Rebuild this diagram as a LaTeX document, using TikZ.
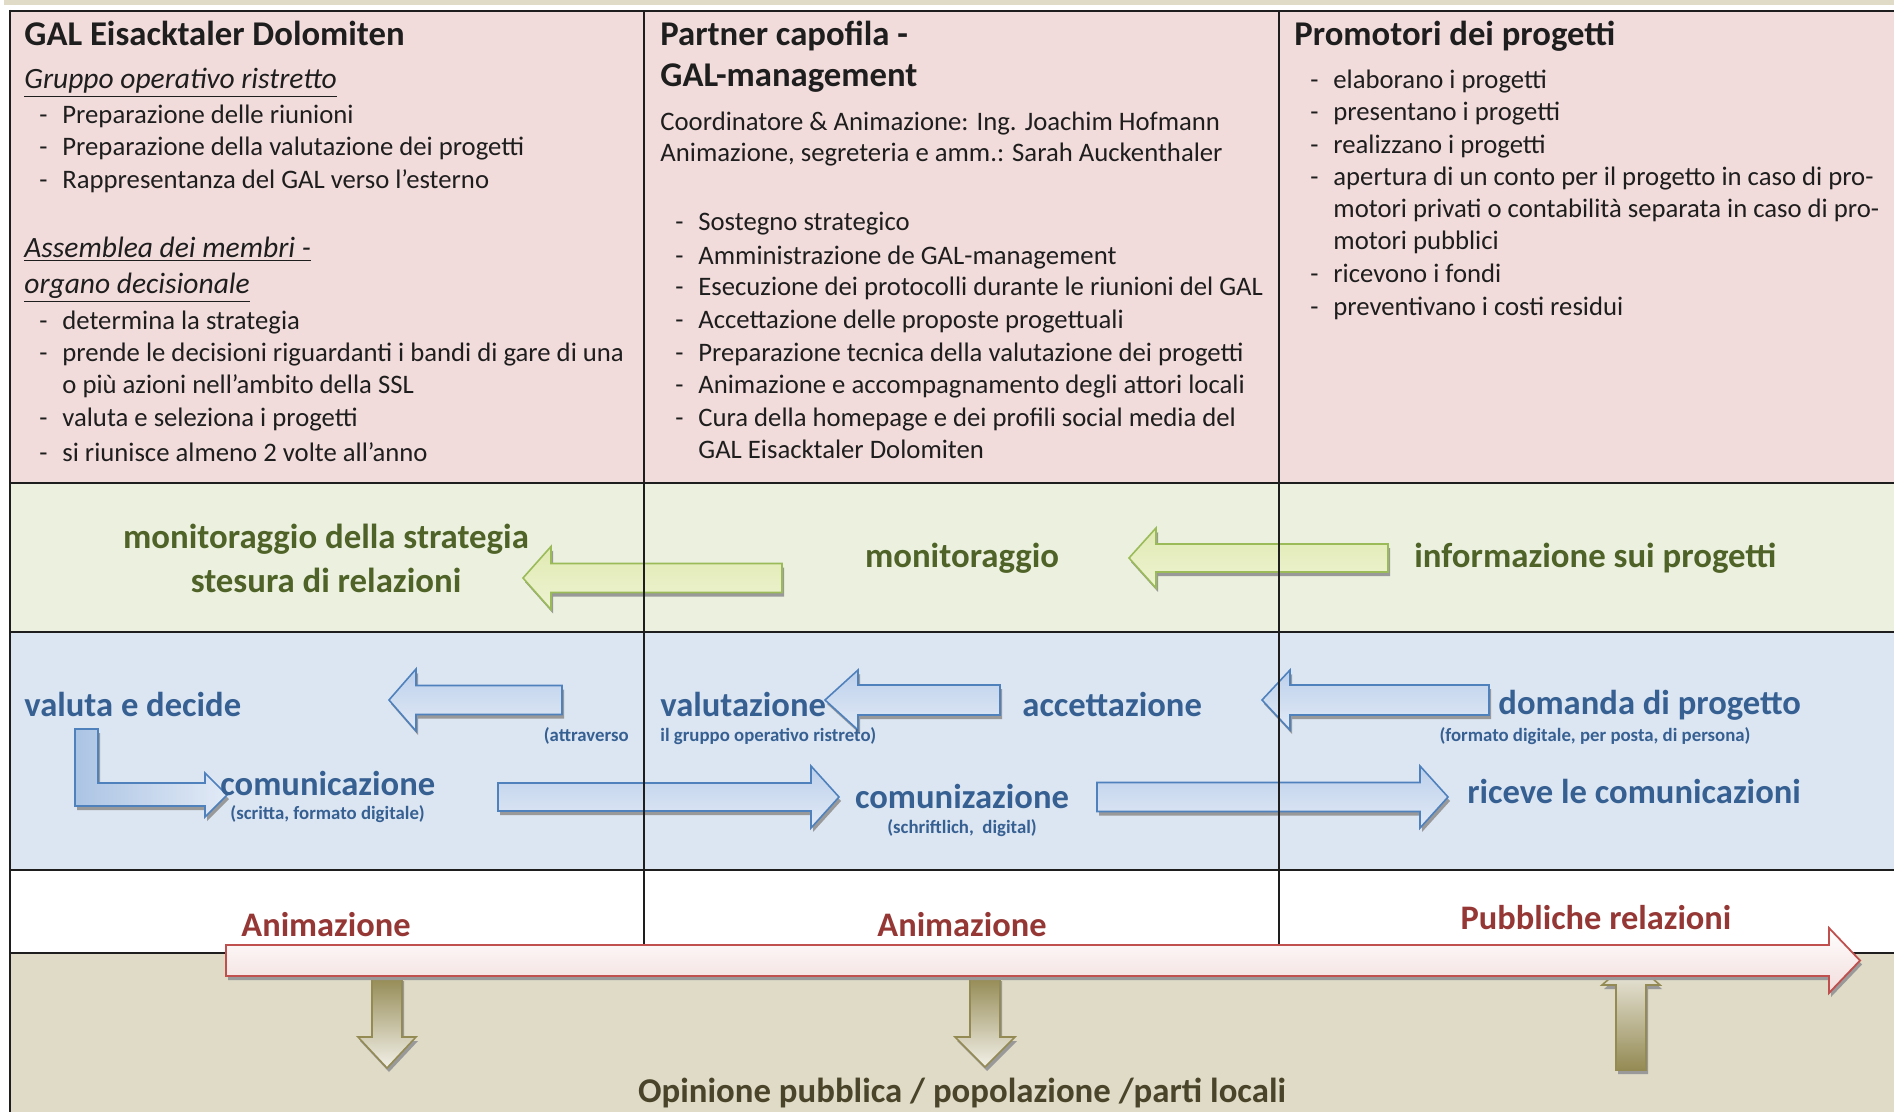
\documentclass[tikz,border=0pt]{standalone}
\usepackage{fontspec}
\setmainfont{Carlito}
\definecolor{pinkbg}{HTML}{F2DCDB}
\definecolor{greenbg}{HTML}{EBF1DE}
\definecolor{bluebg}{HTML}{DCE6F2}
\definecolor{beigebg}{HTML}{DFDBC7}
\definecolor{txtgreen}{HTML}{4F6228}
\definecolor{txtblue}{HTML}{376092}
\definecolor{txtred}{HTML}{953735}
\definecolor{txtolive}{HTML}{4A452A}
\definecolor{arblue}{HTML}{4F81BD}
\definecolor{argreen}{HTML}{9BBB59}
\definecolor{arred}{HTML}{C0504D}
\definecolor{arolive}{HTML}{948A54}
\definecolor{txtdark}{HTML}{1E1E1E}
\definecolor{abtop}{HTML}{BCD0EB}
\definecolor{abbot}{HTML}{E2EAF6}
\definecolor{agtop}{HTML}{E0EAB2}
\definecolor{agbot}{HTML}{EEF3D2}
\newcommand\hblock[7]{%
  \fill[black!40,shift={(2,4)}] (#5,{#3-#6}) -- (#4,{#3-#6}) -- (#4,{#3-#7}) -- (#2,#3) -- (#4,{#3+#7}) -- (#4,{#3+#6}) -- (#5,{#3+#6}) -- cycle;
  \path[#1] (#5,{#3-#6}) -- (#4,{#3-#6}) -- (#4,{#3-#7}) -- (#2,#3) -- (#4,{#3+#7}) -- (#4,{#3+#6}) -- (#5,{#3+#6}) -- cycle;}
\newcommand\vblock[7]{%
  \fill[black!40,shift={(2,4)}] ({#2-#6},#5) -- ({#2-#6},#4) -- ({#2-#7},#4) -- (#2,#3) -- ({#2+#7},#4) -- ({#2+#6},#4) -- ({#2+#6},#5) -- cycle;
  \path[#1] ({#2-#6},#5) -- ({#2-#6},#4) -- ({#2-#7},#4) -- (#2,#3) -- ({#2+#7},#4) -- ({#2+#6},#4) -- ({#2+#6},#5) -- cycle;}
\newcommand\dsh{\makebox[11.5pt][l]{-}}
\tikzset{
  body/.style={anchor=mid west,inner sep=0pt,text=txtdark,font=\fontsize{13.35}{16}\selectfont},
  ital/.style={anchor=mid west,inner sep=0pt,text=txtdark,font=\fontsize{14.75}{18}\selectfont\itshape},
  ttl/.style={anchor=mid west,inner sep=0pt,text=txtdark,font=\fontsize{17.35}{21}\selectfont\bfseries},
  grn/.style={inner sep=0pt,text=txtgreen,font=\fontsize{17.4}{21}\selectfont\bfseries},
  blu/.style={inner sep=0pt,text=txtblue,font=\fontsize{17.3}{21}\selectfont\bfseries},
  sml/.style={inner sep=0pt,text=txtblue,font=\fontsize{9.4}{11}\selectfont\bfseries},
  redt/.style={inner sep=0pt,text=txtred,font=\fontsize{17.2}{20}\selectfont\bfseries},
  olv/.style={inner sep=0pt,text=txtolive,font=\fontsize{17.4}{21}\selectfont\bfseries},
  blueArrow/.style={draw=arblue,line width=0.8pt,top color=abtop,bottom color=abbot},
  greenArrow/.style={draw=argreen,line width=0.8pt,top color=agtop,bottom color=agbot},
  redArrow/.style={draw=arred,line width=0.9pt,top color=white,bottom color=pinkbg},
  oliveDown/.style={draw=arolive,line width=0.8pt,top color=arolive,bottom color=beigebg!40!white},
  oliveUp/.style={draw=arolive,line width=0.8pt,top color=beigebg!40!white,bottom color=arolive},
  hline/.style={line width=1.3pt,draw=txtdark},
  vline/.style={line width=0.9pt,draw=txtdark}
}
\begin{document}
\begin{tikzpicture}[x=0.5pt,y=-0.5pt]
\useasboundingbox (0,0) rectangle (1894,1112);
\clip (0,0) rectangle (1894,1112);
% backgrounds
\fill[white] (0,0) rectangle (1894,1112);
\fill[beigebg] (4,0) rectangle (1894,5);
\fill[pinkbg] (10,11) rectangle (1900,483);
\fill[greenbg] (10,483) rectangle (1900,632);
\fill[bluebg] (10,632) rectangle (1900,870);
\fill[white] (10,870) rectangle (1900,953);
\fill[beigebg] (10,953) rectangle (1900,1120);
% green and blue arrows
\hblock{greenArrow}{523}{578}{551}{782}{14.5}{31.5}
\hblock{greenArrow}{1129}{558}{1156}{1388}{14}{30}
\hblock{blueArrow}{389}{700}{416}{562}{14.5}{31}
\hblock{blueArrow}{825}{700}{858}{1000}{15}{30}
\hblock{blueArrow}{1262}{700}{1290}{1489}{15}{30}
\hblock{blueArrow}{839}{797}{811}{498}{14}{31}
\hblock{blueArrow}{1448}{797}{1420}{1097}{14.5}{31}
\fill[black!40,shift={(2,4)}] (75,729) -- (98,729) -- (98,783) -- (205,783) -- (205,773) -- (227,795) -- (205,817) -- (205,806) -- (75,806) -- cycle;
\path[draw=arblue,line width=0.8pt,left color=abtop!85!arblue,right color=abbot] (75,729) -- (98,729) -- (98,783) -- (205,783) -- (205,773) -- (227,795) -- (205,817) -- (205,806) -- (75,806) -- cycle;
% grid
\draw[hline] (10,11) -- (1900,11);
\draw[hline] (10,483) -- (1900,483);
\draw[hline] (10,632) -- (1900,632);
\draw[hline] (10,870) -- (1900,870);
\draw[hline] (10,953) -- (1900,953);
\draw[hline] (10,10) -- (10,1112);
\draw[vline] (644,11) -- (644,953);
\draw[vline] (1279,11) -- (1279,953);
% olive arrows and red arrow
\vblock{oliveDown}{387}{1068}{1037}{977}{15}{29}
\vblock{oliveDown}{985}{1067}{1037}{977}{15}{30}
\vblock{oliveUp}{1631}{960}{985}{1070}{15}{29}
\hblock{redArrow}{1860}{960.5}{1829}{226}{15.5}{32.5}
% column 1
\node[ttl] (t1) at (24,41) {GAL Eisacktaler Dolomiten};
\node[ital] (g1) at (24,84) {\underline{Gruppo operativo ristretto}};
\node[body] (a1) at (39,119) {\dsh Preparazione delle riunioni};
\node[body] (a2) at (39,151) {\dsh Preparazione della valutazione dei progetti};
\node[body] (a3) at (39,184) {\dsh Rappresentanza del GAL verso l’esterno};
\node[ital] (g2) at (24,253) {\underline{Assemblea dei membri -}};
\node[ital] (g3) at (24,289) {\underline{organo decisionale}};
\node[body] (b1) at (39,325) {\dsh determina la strategia};
\node[body] (b2) at (39,357) {\dsh prende le decisioni riguardanti i bandi di gare di una};
\node[body] (b3) at (62,389) {o più azioni nell’ambito della SSL};
\node[body] (b4) at (39,422) {\dsh valuta e seleziona i progetti};
\node[body] (b5) at (39,457) {\dsh si riunisce almeno 2 volte all’anno};
% column 2
\node[ttl] (t2) at (660,41) {Partner capofila -};
\node[ttl] (t2b) at (660,82) {GAL-management};
\node[body] (c1) at (660,126) {Coordinatore \& Animazione: Ing. Joachim Hofmann};
\node[body] (c2) at (660,157) {Animazione, segreteria e amm.: Sarah Auckenthaler};
\node[body] (d1) at (675,226) {\dsh Sostegno strategico};
\node[body] (d2) at (675,260) {\dsh Amministrazione de GAL-management};
\node[body] (d3) at (675,291) {\dsh Esecuzione dei protocolli durante le riunioni del GAL};
\node[body] (d4) at (675,324) {\dsh Accettazione delle proposte progettuali};
\node[body] (d5) at (675,357) {\dsh Preparazione tecnica della valutazione dei progetti};
\node[body] (d6) at (675,389) {\dsh Animazione e accompagnamento degli attori locali};
\node[body] (d7) at (675,422) {\dsh Cura della homepage e dei profili social media del};
\node[body] (d8) at (698,454) {GAL Eisacktaler Dolomiten};
% column 3
\node[ttl] (t3) at (1294,41) {Promotori dei progetti};
\node[body] (e1) at (1310,84) {\dsh elaborano i progetti};
\node[body] (e2) at (1310,116) {\dsh presentano i progetti};
\node[body] (e3) at (1310,149) {\dsh realizzano i progetti};
\node[body] (e4) at (1310,181) {\dsh apertura di un conto per il progetto in caso di pro-};
\node[body] (e5) at (1333,213) {motori privati o contabilità separata in caso di pro-};
\node[body] (e6) at (1333,245) {motori pubblici};
\node[body] (e7) at (1310,278) {\dsh ricevono i fondi};
\node[body] (e8) at (1310,311) {\dsh preventivano i costi residui};
% row 2
\node[grn] (m1) at (326,539) {monitoraggio della strategia};
\node[grn] (m2) at (326,580) {stesura di relazioni};
\node[grn] (m3) at (962,558) {monitoraggio};
\node[grn,anchor=west] (m4) at (1414,558) {informazione sui progetti};
% row 3
\node[blu,anchor=west] (v1) at (24,704) {valuta e decide};
\node[sml,anchor=east] (v2) at (629,736) {(attraverso};
\node[blu,anchor=west] (v3) at (660,704) {valutazione};
\node[sml,anchor=west] (v4) at (660,736) {il gruppo operativo ristreto)};
\node[blu,anchor=west] (v5) at (1022,704) {accettazione};
\node[blu,anchor=west] (v6) at (1498,705) {domanda di progetto};
\node[sml] (v7) at (1595,736) {(formato digitale, per posta, di persona)};
\node[blu,anchor=west] (k1) at (220,783) {comunicazione};
\node[sml,anchor=west] (k2) at (230,814) {(scritta, formato digitale)};
\node[blu] (k3) at (962,796) {comunizazione};
\node[sml] (k4) at (962,828) {(schriftlich,\ \ digital)};
\node[blu,anchor=west] (k5) at (1467,791) {riceve le comunicazioni};
% row 4
\node[redt] (r1) at (326,925) {Animazione};
\node[redt] (r2) at (962,925) {Animazione};
\node[redt] (r3) at (1596,918) {Pubbliche relazioni};
% bottom
\node[olv] (o1) at (962,1093) {Opinione pubblica / popolazione /parti locali};
\end{tikzpicture}
\end{document}
